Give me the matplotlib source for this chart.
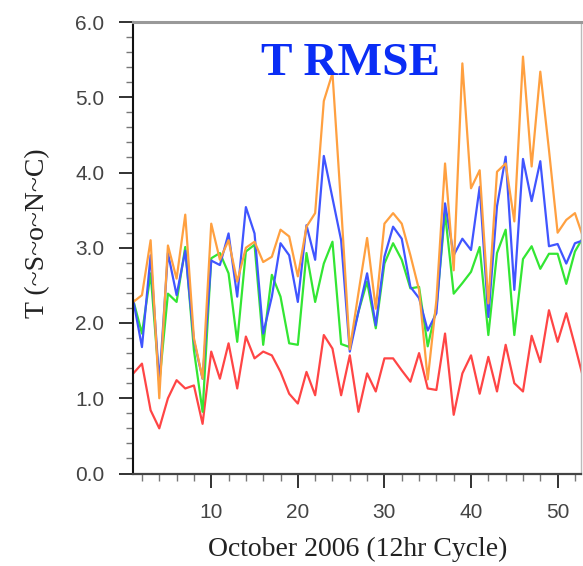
import matplotlib
matplotlib.use("Agg")
import matplotlib.pyplot as plt
from matplotlib.ticker import MultipleLocator, FixedLocator, FixedFormatter

cycles = list(range(1, 54))

orange = [2.28, 2.37, 3.10, 1.00, 3.03, 2.59, 3.44, 1.80, 1.26, 3.32,
          2.84, 3.10, 2.55, 3.00, 3.08, 2.81, 2.88, 3.24, 3.15, 2.62,
          3.28, 3.46, 4.95, 5.32, 3.55, 1.65, 2.40, 3.13, 2.19, 3.32,
          3.46, 3.32, 2.90, 2.44, 1.25, 2.30, 4.12, 2.70, 5.45, 3.79,
          4.03, 2.26, 4.01, 4.12, 3.35, 5.54, 4.08, 5.34, 4.30, 3.20,
          3.37, 3.46, 3.12]
blue = [2.30, 1.68, 2.90, 1.20, 2.93, 2.37, 2.96, 1.77, 1.26, 2.83,
        2.77, 3.19, 2.35, 3.54, 3.19, 1.86, 2.35, 3.06, 2.90, 2.28,
        3.30, 2.84, 4.22, 3.66, 3.10, 1.62, 2.15, 2.66, 1.97, 2.88,
        3.28, 3.12, 2.48, 2.33, 1.90, 2.13, 3.59, 2.90, 3.12, 2.97,
        3.81, 2.08, 3.55, 4.21, 2.44, 4.18, 3.62, 4.15, 3.02, 3.05,
        2.79, 3.06, 3.10]
green = [2.30, 1.86, 2.66, 1.20, 2.39, 2.28, 3.01, 1.64, 0.82, 2.86,
         2.93, 2.66, 1.75, 2.95, 3.04, 1.71, 2.64, 2.35, 1.73, 1.71,
         2.93, 2.28, 2.79, 3.08, 1.72, 1.68, 2.15, 2.55, 1.93, 2.79,
         3.06, 2.84, 2.46, 2.48, 1.69, 2.20, 3.46, 2.39, 2.53, 2.68,
         3.01, 1.84, 2.93, 3.24, 1.84, 2.85, 3.02, 2.72, 2.92, 2.92,
         2.52, 2.95, 3.15]
red = [1.33, 1.46, 0.84, 0.60, 1.00, 1.24, 1.13, 1.17, 0.66, 1.62,
       1.26, 1.73, 1.13, 1.82, 1.53, 1.62, 1.57, 1.35, 1.06, 0.93,
       1.35, 1.04, 1.84, 1.66, 1.04, 1.57, 0.82, 1.33, 1.09, 1.53,
       1.53, 1.37, 1.22, 1.60, 1.13, 1.11, 1.86, 0.78, 1.33, 1.57,
       1.06, 1.55, 1.09, 1.71, 1.20, 1.09, 1.83, 1.48, 2.17, 1.75,
       2.13, 1.70, 1.25]

x_major = [10, 20, 30, 40, 50]
y_major = [0, 1, 2, 3, 4, 5, 6]
y_labels = ["0.0", "1.0", "2.0", "3.0", "4.0", "5.0", "6.0"]

title = "T RMSE"
xlabel = "October 2006 (12hr Cycle)"
ylabel = "T (~S~o~N~C)"

W, H = 583, 566
fig = plt.figure(figsize=(W / 100, H / 100), dpi=100)
L, R, T, B = 133.3, 581, 22, 473.5
ax = fig.add_axes([L / W, 1 - B / H, (R - L) / W, (B - T) / H])

ax.plot(cycles, red, color="#ff4545", lw=1.6)
ax.plot(cycles, green, color="#33e633", lw=1.6)
ax.plot(cycles, blue, color="#4055ff", lw=1.6)
ax.plot(cycles, orange, color="#ffa040", lw=1.6)

ax.set_xlim(1, 52.7)
ax.set_ylim(0, 6)

ax.xaxis.set_major_locator(FixedLocator(x_major))
ax.xaxis.set_minor_locator(MultipleLocator(2))
ax.yaxis.set_major_locator(FixedLocator(y_major))
ax.yaxis.set_major_formatter(FixedFormatter(y_labels))
ax.yaxis.set_minor_locator(MultipleLocator(0.2))

ax.tick_params(axis="both", which="major", direction="out", length=10,
               width=1.3, color="#222", labelsize=15, labelcolor="#444", pad=11)
ax.tick_params(axis="both", which="minor", direction="out", length=5,
               width=1.0, color="#777")
for lab in ax.get_xticklabels() + ax.get_yticklabels():
    lab.set_fontfamily("Liberation Sans")

ax.spines["left"].set_color("#111")
ax.spines["left"].set_linewidth(1.5)
ax.spines["bottom"].set_color("#444")
ax.spines["bottom"].set_linewidth(1.6)
ax.spines["top"].set_color("#999")
ax.spines["top"].set_linewidth(2.2)
ax.spines["right"].set_color("#bbb")
ax.spines["right"].set_linewidth(1.0)

fig.text(351 / W, 1 - 75 / H, title, ha="center", va="baseline",
         fontsize=34, fontweight="bold", color="#0a2df5",
         family="Liberation Serif")
fig.text(358 / W, 1 - 556 / H, xlabel, ha="center", va="baseline",
         fontsize=20, color="#222", family="Liberation Serif")
fig.text(38 / W, 1 - 233 / H, ylabel, ha="center", va="center",
         rotation=90, fontsize=20, color="#222", family="Liberation Serif")

fig.savefig("out.png", dpi=100)
